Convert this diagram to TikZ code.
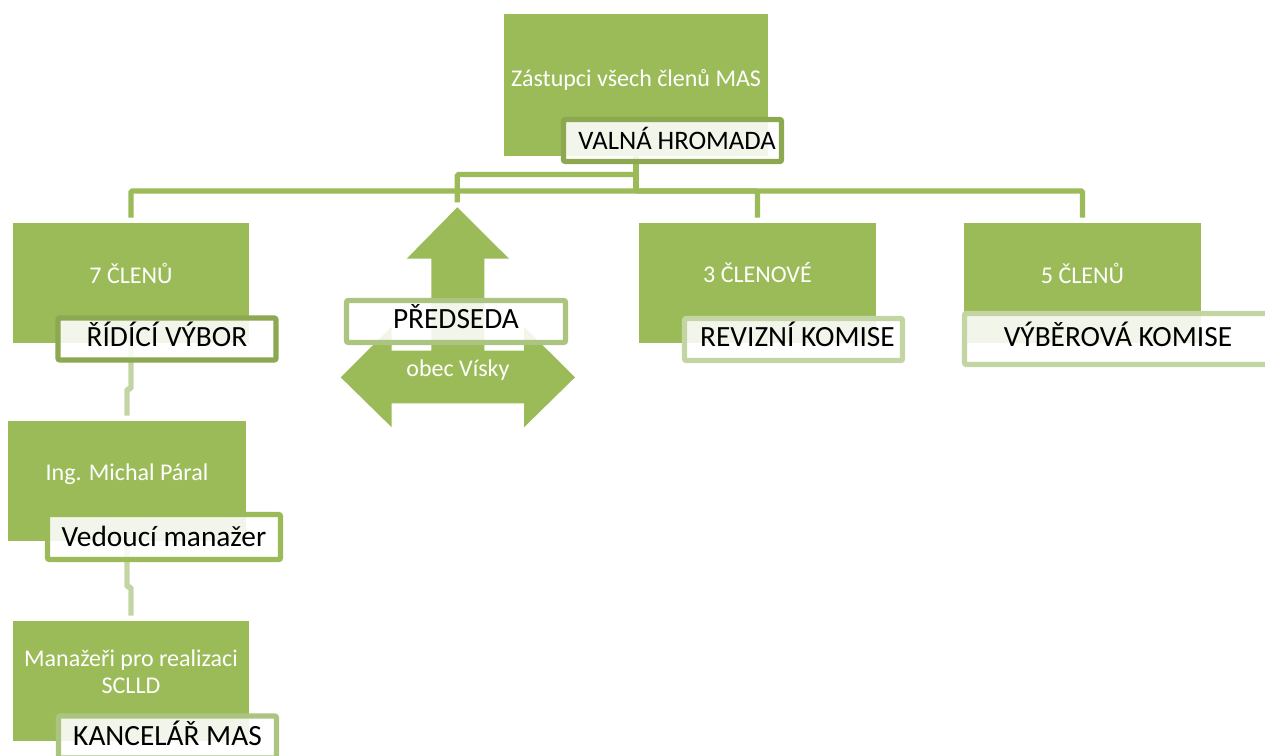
\documentclass[tikz,border=0pt]{standalone}
\usepackage{fontspec}
\setmainfont{Carlito}
\definecolor{mrgreen}{HTML}{9BBB59}
\definecolor{mrdark}{HTML}{8CA851}
\definecolor{mrmid}{HTML}{ABC47F}
\definecolor{mrpale}{HTML}{C4D5A4}
\tikzset{
    mrbox/.style 2 args={fill=mrgreen, inner sep=0pt,
        minimum width=#1*0.75pt, minimum height=#2*0.75pt},
    mrtext/.style={text=white, align=center, inner sep=0pt, font=\fontsize{18}{20}\selectfont},
    mrlabel/.style n args={3}{draw=#3, line width=4pt, rounded corners=1.5pt, fill=white,
        fill opacity=0.88, text opacity=1, text=black, inner sep=0pt,
        text height=14pt, text depth=3pt,
        minimum width=#1*0.75pt, minimum height=#2*0.75pt,
        font=\fontsize{22}{26}\selectfont},
    mrlink/.style={draw=mrgreen, line width=4pt, rounded corners=1pt},
    mrstub/.style={draw=mrpale, line width=4pt, rounded corners=1pt}
}
\begin{document}
\begin{tikzpicture}[x=0.75pt, y=-0.75pt]
    \useasboundingbox (0,0) rectangle (1265,756);

    % green boxes
    \node[mrbox={264}{142}] (valna) at (636,85) {};
    \node[mrbox={236}{120}] (ridici) at (131,283) {};
    \node[mrbox={237}{120}] (revizni) at (757.5,283) {};
    \node[mrbox={237}{120}] (vyberova) at (1082.5,283) {};
    \node[mrbox={238}{120}] (vedouci) at (127,481) {};
    \node[mrbox={236}{120}] (kancelar) at (131,681) {};

    % texts sit above the middle of the boxes
    \node[mrtext] (valnatext) at (636,80) {Zástupci všech členů MAS};
    \node[mrtext] (ridicitext) at (131,273) {7 ČLENŮ};
    \node[mrtext] (revizitext) at (757.5,273) {3 ČLENOVÉ};
    \node[mrtext] (vybertext) at (1082.5,273) {5 ČLENŮ};
    \node[mrtext] (vedoucitext) at (127,474) {Ing. Michal Páral};
    \node[mrtext] (kancelartext) at (131,672) {Manažeři pro realizaci\\SCLLD};

    % double arrow
    \fill[mrgreen] (457.3,207.3) -- (509,258.7) -- (484.3,258.7) -- (484.3,350.7) -- (524,350.7)
        -- (524,326.7) -- (575,377.3) -- (524,427.3) -- (524,403.3) -- (391.7,403.3)
        -- (391.7,427.3) -- (340.7,377.3) -- (391.7,326.7) -- (391.7,350.7) -- (431.3,350.7)
        -- (431.3,258.7) -- (406.7,258.7) -- cycle;
    \node[mrtext] (obec) at (458,370) {obec Vísky};
    \coordinate (arrowtip) at (457.3,207.3);

    % connectors
    \coordinate (hub) at (636,191);
    \coordinate (predstep) at (636,174.5);
    \coordinate (vedstep) at (127,389);
    \coordinate (kanstep) at (131,587);
    \draw[mrlink] (valna.south) -- (hub);
    \draw[mrlink, shorten >=3.75pt] (hub) -| (ridici.north);
    \draw[mrlink, shorten >=3.75pt] (hub) -| (revizni.north);
    \draw[mrlink, shorten >=3.75pt] (hub) -| (vyberova.north);
    \draw[mrlink, shorten >=3.75pt] (predstep) -| (arrowtip);
    \draw[mrstub, shorten >=3.75pt] (ridici.south) |- (vedstep) -- (vedouci.north);
    \draw[mrstub, shorten >=3.75pt] (vedouci.south) |- (kanstep) -- (kancelar.north);

    % labels on top
    \node[mrlabel={218}{42}{mrdark}, font=\fontsize{20}{24}\selectfont, text depth=0pt] (valnalabel) at (672.5,140.5) {\hspace*{7pt}VALNÁ HROMADA};
    \node[mrlabel={218}{42}{mrdark}] (ridicilabel) at (167,339) {ŘÍDÍCÍ VÝBOR};
    \node[mrlabel={218}{42}{mrpale}] (revizlabel) at (793.5,339.5) {\hspace*{6pt}REVIZNÍ KOMISE};
    \node[mrlabel={307}{51}{mrpale}] (vyberlabel) at (1118,339) {VÝBĚROVÁ KOMISE};
    \node[mrlabel={219}{42}{mrmid}] (predsedalabel) at (456,321.5) {PŘEDSEDA};
    \node[mrlabel={233}{45}{mrgreen}, text depth=0pt] (vedoucilabel) at (164,537) {Vedoucí manažer};
    \node[mrlabel={218}{42}{mrmid}, text depth=1.5pt] (kancelarlabel) at (167.5,737) {KANCELÁŘ MAS};
\end{tikzpicture}
\end{document}
